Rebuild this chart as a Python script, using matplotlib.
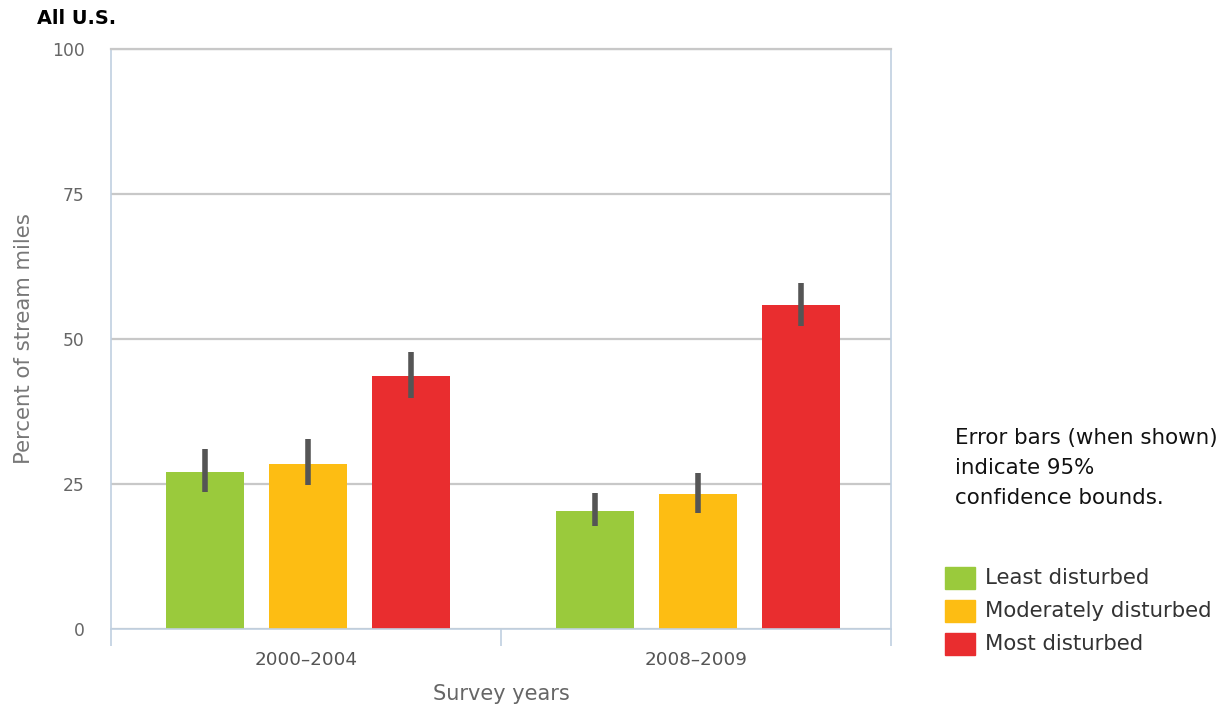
import numpy as np
import matplotlib.pyplot as plt
from matplotlib.patches import Rectangle

plt.rcParams["font.family"] = ["DejaVu Sans"]

# data
periods = ["2000–2004", "2008–2009"]
classes = ["Least disturbed", "Moderately disturbed", "Most disturbed"]
colors = ["#9aca3c", "#fdbd13", "#e92d2f"]
values = {
    "Least disturbed": [27.1, 20.3],
    "Moderately disturbed": [28.4, 23.3],
    "Most disturbed": [43.6, 55.9],
}
err_low = {
    "Least disturbed": [23.6, 17.8],
    "Moderately disturbed": [24.8, 20.0],
    "Most disturbed": [39.8, 52.2],
}
err_high = {
    "Least disturbed": [31.0, 23.4],
    "Moderately disturbed": [32.8, 26.9],
    "Most disturbed": [47.8, 59.7],
}

fig = plt.figure(figsize=(12.25, 7.1), dpi=100)
ax = fig.add_axes([0.0906, 0.1141, 0.6367, 0.8169])

x = np.arange(len(periods))
offsets = [-0.26, 0.005, 0.27]
width = 0.2
for name, col, off in zip(classes, colors, offsets):
    v = np.array(values[name])
    lo = v - np.array(err_low[name])
    hi = np.array(err_high[name]) - v
    ax.bar(x + off, v, width, color=col, zorder=2)
    ax.errorbar(x + off, v, yerr=[lo, hi], fmt="none", ecolor="#555555",
                elinewidth=4, capsize=0, zorder=3)

ax.set_xlim(-0.5, 1.5)
ax.set_ylim(0, 100)
ax.set_yticks([0, 25, 50, 75, 100])
ax.yaxis.grid(True, color="#c8c8c8", linewidth=1.6, zorder=0)
ax.set_axisbelow(True)
ax.tick_params(axis="y", length=0, labelsize=12.3, labelcolor="#666666", pad=19)

ax.set_xticks([-0.5, 0.5, 1.5])
ax.set_xticklabels([])
ax.set_xticks(x, minor=True)
ax.set_xticklabels(periods, minor=True)
ax.tick_params(axis="x", which="major", length=12, width=1.2, color="#c0d0e0",
               direction="out")
ax.tick_params(axis="x", which="minor", length=0, labelsize=13.2,
               labelcolor="#555555", pad=16)

for s in ["left", "right", "bottom"]:
    ax.spines[s].set_color("#c0d0e0")
    ax.spines[s].set_linewidth(1.2)
ax.spines["top"].set_color("#c8c8c8")
ax.spines["top"].set_linewidth(1.6)

ax.set_ylabel("Percent of stream miles", fontsize=15.3, color="#777777", labelpad=13)
ax.set_xlabel("Survey years", fontsize=15, color="#666666", labelpad=11)

fig.text(37 / 1225, 1 - 18 / 710, "All U.S.", fontsize=13.9, fontweight="bold",
         va="center", ha="left")

fig.text(955 / 1225, 1 - 468 / 710,
         "Error bars (when shown)\nindicate 95%\nconfidence bounds.",
         fontsize=15.4, va="center", ha="left", linespacing=1.6, color="#111111")

for i, (name, col) in enumerate(zip(classes, colors)):
    yc = 578 + 33 * i
    fig.patches.append(Rectangle((945 / 1225, 1 - (yc + 11) / 710), 30 / 1225, 22 / 710,
                                 transform=fig.transFigure, color=col))
    fig.text(985 / 1225, 1 - yc / 710, name, fontsize=15.3, color="#333333",
             va="center", ha="left")

fig.savefig("out.png", dpi=100)
